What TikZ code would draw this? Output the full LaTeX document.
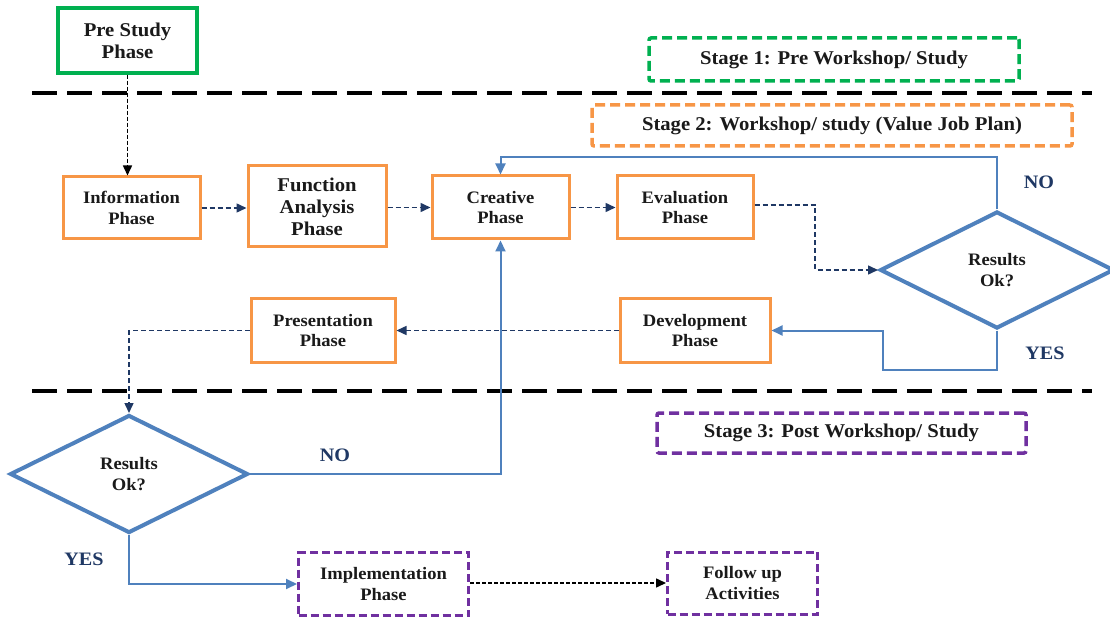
\documentclass[tikz,border=0pt]{standalone}
\usepackage{fontspec}
\setmainfont{Liberation Serif}[FakeStretch=1.06]
\usetikzlibrary{arrows.meta,shapes.geometric}

\definecolor{vorange}{HTML}{F79646}
\definecolor{vgreen}{HTML}{00B050}
\definecolor{vpurple}{HTML}{7030A0}
\definecolor{vblue}{HTML}{4F81BD}
\definecolor{vnavy}{HTML}{1F3864}
\definecolor{vtext}{HTML}{1A1A1A}

\tikzset{
  txt/.style={font=\bfseries\fontsize{17.5}{20.5}\selectfont, text=vtext, align=center},
  bigtxt/.style={font=\bfseries\fontsize{19.5}{22}\selectfont, text=vtext, align=center},
  phasebox/.style={txt, draw=vorange, line width=3pt, rectangle, inner sep=0pt},
  prebox/.style={bigtxt, draw=vgreen, line width=3.5pt, rectangle, inner sep=0pt},
  postbox/.style={txt, draw=vpurple, line width=3pt, dash pattern=on 8pt off 4pt, rectangle, inner sep=0pt},
  stagebox/.style={font=\bfseries\fontsize{19.5}{22}\selectfont, text=vtext, line width=3.5pt,
                   dash pattern=on 10pt off 5pt, rounded corners=2pt, rectangle, inner sep=0pt},
  decision/.style={txt, diamond, draw=vblue, line width=4pt, inner sep=0pt, aspect=2},
  navyflow/.style={draw=vnavy, line width=1.5pt, dash pattern=on 5pt off 3pt,
                   -{Triangle[length=10pt,width=9pt]}},
  blackflow/.style={draw=black, line width=1.5pt, dash pattern=on 4pt off 2pt,
                    -{Triangle[length=10pt,width=9pt]}},
  blueflow/.style={draw=vblue, line width=2pt, -{Triangle[length=11pt,width=10pt]}},
  divider/.style={draw=black, line width=4pt, dash pattern=on 25pt off 10pt},
  answer/.style={font=\bfseries\fontsize{19}{22}\selectfont, text=vnavy}
}

\begin{document}
\begin{tikzpicture}[x=1pt,y=-1pt]
\useasboundingbox (0,0) rectangle (1110,617);
\fill[white] (0,0) rectangle (1110,617);

% stage dividers
\draw[divider] (32,93) -- (1092,93);
\draw[divider] (32,391) -- (1092,391);

% stage captions
\node[stagebox, draw=vgreen, minimum width=370pt, minimum height=43pt] (s1) at (834,59.5) {Stage 1: Pre Workshop/ Study};
\node[stagebox, draw=vorange, minimum width=480pt, minimum height=41pt] (s2) at (832,125.5) {Stage 2: Workshop/ study (Value Job Plan)};
\node[stagebox, draw=vpurple, minimum width=369pt, minimum height=40pt] (s3) at (841.5,433) {Stage 3: Post Workshop/ Study};

% phases
\node[prebox, minimum width=139pt, minimum height=65pt] (pre) at (127.5,40.5) {Pre Study\\Phase};
\node[phasebox, minimum width=137pt, minimum height=62pt] (info) at (131.5,208) {Information\\Phase};
\node[phasebox, bigtxt, minimum width=138pt, minimum height=81pt] (fa) at (317,206.5) {Function\\Analysis\\Phase};
\node[phasebox, minimum width=137pt, minimum height=63pt] (cre) at (500.5,207.5) {Creative\\Phase};
\node[phasebox, minimum width=136pt, minimum height=63pt] (eva) at (685,207.5) {Evaluation\\Phase};
\node[phasebox, minimum width=150pt, minimum height=63pt] (dev) at (695,330.5) {Development\\Phase};
\node[phasebox, minimum width=144pt, minimum height=63pt] (pres) at (323,330.5) {Presentation\\Phase};
\node[postbox, minimum width=170pt, minimum height=63pt] (impl) at (383.5,584) {Implementation\\Phase};
\node[postbox, minimum width=150pt, minimum height=62pt] (fol) at (742.5,583) {Follow up\\Activities};

% decisions
\node[decision, minimum width=234pt, minimum height=117pt] (dR) at (997,270) {Results\\Ok?};
\node[decision, minimum width=238pt, minimum height=118pt] (dL) at (129,474) {Results\\Ok?};

% bend points
\coordinate (evaBend) at (815,205);
\coordinate (loopTop) at (997,157);
\coordinate (yesBend) at (883,370);

% flow
\draw[blackflow] (pre.south) -- (pre.south |- info.north);
\draw[navyflow] (info.east) -- (info.east -| fa.west);
\draw[navyflow] (fa.east |- cre.east) -- (cre.east -| fa.east) -- (cre.west);
\draw[navyflow] (cre.east) -- (eva.west);
\draw[navyflow] (eva.east |- evaBend) -- (evaBend) |- (dR.west);
\draw[blueflow] (dR.north) -- (loopTop) -| (cre.north);
\draw[blueflow] (dR.south) |- (yesBend) |- (dev.east);
\draw[navyflow] (dev.west) -- (pres.east);
\draw[navyflow] (pres.west) -| (dL.north);
\draw[blueflow] (dL.east) -| (cre.south);
\draw[blueflow] (dL.south) |- (impl.west);
\draw[blackflow] (impl.east |- fol.west) -- (fol.west);

% answers
\node[answer] (noR) at (1039,182) {NO};
\node[answer] (yesR) at (1045,353) {YES};
\node[answer] (noL) at (335,455) {NO};
\node[answer] (yesL) at (84,559) {YES};
\end{tikzpicture}
\end{document}
